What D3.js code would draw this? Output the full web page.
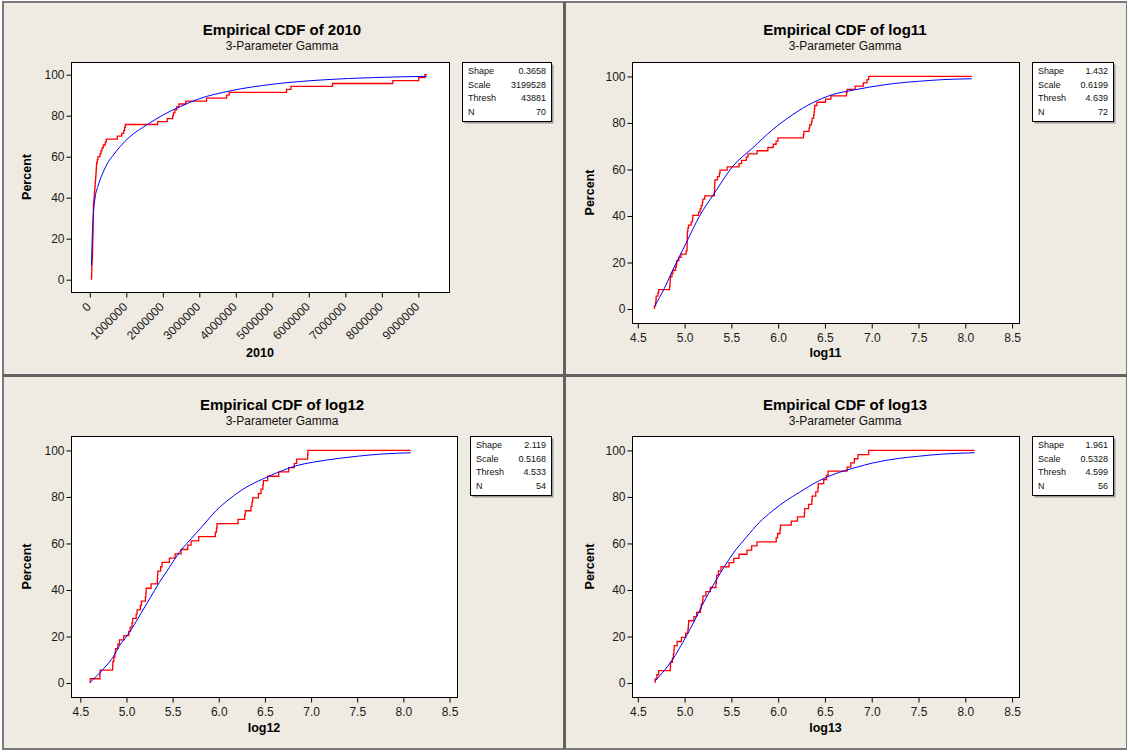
<!DOCTYPE html>
<html>
<head>
<meta charset="UTF-8" />
<title>Empirical CDF - 3-Parameter Gamma</title>
<script src="https://d3js.org/d3.v7.min.js"></script>
<style>
  body {
    margin: 0;
    background: #ffffff;
    font-family: "Liberation Sans", Arial, sans-serif;
  }
  svg { display: block; }
  .title { font-size: 15px; font-weight: bold; fill: #000; }
  .subtitle { font-size: 12px; fill: #111; }
  .axis-label { font-size: 12.5px; font-weight: bold; fill: #000; }
  .legend-text { font-size: 9px; fill: #111; }
</style>
</head>
<body>
<svg id="chart"></svg>
<script>
const width = 1127, height = 750;

// ---- data ----
const variables = ["2010", "log11", "log12", "log13"];
const shapes = ["0.3658", "1.432", "2.119", "1.961"];
const scales = ["3199528", "0.6199", "0.5168", "0.5328"];
const threshs = ["43881", "4.639", "4.533", "4.599"];

const pctTicks = [0, 20, 40, 60, 80, 100];
const ticks2010 = [0, 1000000, 2000000, 3000000, 4000000, 5000000, 6000000, 7000000, 8000000, 9000000];
const ticksLog = [4.5, 5.0, 5.5, 6.0, 6.5, 7.0, 7.5, 8.0, 8.5];

// sorted observations (empirical CDF, red)
const data2010 = [46000, 51000, 53000, 55000, 57000, 60000, 66000, 70000, 73000, 75000,
  77000, 78000, 80000, 82000, 84000, 88000, 90000, 91000, 92000, 93000,
  94000, 95000, 96000, 97000, 98000, 100000, 108000, 115000, 122000, 128000,
  134000, 140000, 147000, 153000, 160000, 166000, 171000, 177000, 182000, 188000,
  205000, 225000, 279000, 305000, 334000, 370000, 425000, 452000, 753000, 873000,
  928000, 955000, 973000, 1860000, 2120000, 2270000, 2290000, 2330000, 2380000, 2440000,
  2630000, 3200000, 3750000, 3820000, 5390000, 5510000, 6650000, 8300000, 9010000, 9180000];

const data11 = [4.678, 4.690, 4.694, 4.696, 4.715, 4.724, 4.840, 4.844, 4.846, 4.848,
  4.865, 4.875, 4.903, 4.912, 4.917, 4.939, 4.963, 5.017, 5.026, 5.027,
  5.028, 5.028, 5.029, 5.030, 5.035, 5.042, 5.071, 5.085, 5.088, 5.149,
  5.166, 5.177, 5.190, 5.195, 5.216, 5.318, 5.320, 5.321, 5.322, 5.324,
  5.352, 5.372, 5.378, 5.455, 5.582, 5.609, 5.659, 5.678, 5.774, 5.890,
  5.948, 5.978, 5.998, 6.270, 6.275, 6.330, 6.337, 6.355, 6.363, 6.379,
  6.385, 6.388, 6.391, 6.414, 6.506, 6.564, 6.730, 6.737, 6.822, 6.910,
  6.949, 6.968];

const data12 = [4.607, 4.712, 4.715, 4.850, 4.852, 4.863, 4.875, 4.881, 4.906, 4.924,
  4.971, 5.025, 5.040, 5.060, 5.068, 5.105, 5.115, 5.150, 5.162, 5.205,
  5.210, 5.213, 5.267, 5.335, 5.337, 5.339, 5.370, 5.386, 5.465, 5.527,
  5.592, 5.664, 5.700, 5.783, 5.963, 5.975, 5.981, 6.209, 6.280, 6.288,
  6.349, 6.360, 6.367, 6.429, 6.458, 6.478, 6.483, 6.530, 6.649, 6.757,
  6.818, 6.844, 6.963, 6.966];

const data13 = [4.685, 4.704, 4.723, 4.848, 4.850, 4.870, 4.880, 4.885, 4.889, 4.920,
  4.966, 5.012, 5.035, 5.040, 5.043, 5.100, 5.128, 5.170, 5.178, 5.192,
  5.197, 5.228, 5.274, 5.335, 5.340, 5.343, 5.362, 5.390, 5.474, 5.525,
  5.582, 5.667, 5.717, 5.774, 5.979, 5.994, 6.020, 6.025, 6.140, 6.206,
  6.280, 6.283, 6.325, 6.360, 6.363, 6.402, 6.425, 6.429, 6.487, 6.517,
  6.533, 6.737, 6.776, 6.814, 6.853, 6.968];

// fitted gamma CDF (blue), [x, percent]
const fit2010 = [[46000, 7], [69000, 21.7], [96000, 31.5], [142000, 39.6], [233000, 46.1],
  [370000, 52.6], [507000, 57.5], [644000, 60.8], [827000, 64.9], [1100000, 69.8],
  [1560000, 75.5], [2010000, 80.4], [2470000, 84.4], [2970000, 88.1], [3840000, 92.1],
  [5030000, 95.4], [6400000, 97.5], [7770000, 98.6], [9230000, 99.2]];

const fit11 = [[4.678, 1.1], [4.785, 9.0], [4.875, 16.9], [5.017, 28.4], [5.159, 39.9],
  [5.320, 49.9], [5.516, 61.4], [5.729, 69.3], [5.943, 77.2], [6.157, 83.6],
  [6.370, 88.7], [6.584, 92.2], [6.798, 94.1], [6.976, 95.4], [7.25, 97.0],
  [7.5, 97.9], [7.75, 98.6], [8.07, 99.0]];

const fit12 = [[4.607, 0.3], [4.708, 4.3], [4.780, 7.4], [4.852, 11.0], [4.924, 16.0],
  [5.033, 21.8], [5.141, 28.9], [5.249, 36.1], [5.357, 43.3], [5.465, 49.7],
  [5.573, 56.2], [5.682, 61.2], [5.826, 67.6], [5.971, 74.1], [6.115, 79.1],
  [6.295, 84.1], [6.475, 87.7], [6.656, 90.8], [6.836, 93.4], [7.017, 94.9],
  [7.305, 96.6], [7.5, 97.5], [7.75, 98.4], [8.08, 99.0]];

const fit13 = [[4.685, 1.0], [4.767, 4.6], [4.874, 10.3], [4.981, 17.5], [5.088, 25.4],
  [5.195, 34.0], [5.302, 41.8], [5.409, 49.0], [5.515, 55.5], [5.658, 62.6],
  [5.800, 69.1], [5.943, 74.1], [6.085, 78.4], [6.228, 82.0], [6.370, 85.5],
  [6.512, 88.4], [6.655, 90.6], [6.833, 92.7], [7.011, 94.6], [7.296, 96.6],
  [7.5, 97.5], [7.75, 98.4], [8.10, 99.0]];

const samples = [data2010, data11, data12, data13];
const fits = [fit2010, fit11, fit12, fit13];

// ---- layout ----
const fmtBig = d3.format("d");
const fmtLog = d3.format(".1f");
const panels = [
  { ox: 0,   oy: 0,   left: 71, right: 449, top: 62, bottom: 292, xDom: [-515000, 9840000], ticks: ticks2010, fmt: fmtBig, rotate: true,  legend: [462, 62, 89, 59] },
  { ox: 563, oy: 0,   left: 69, right: 456, top: 62, bottom: 323, xDom: [4.438, 8.574],     ticks: ticksLog,  fmt: fmtLog, rotate: false, legend: [469, 62, 81, 59] },
  { ox: 0,   oy: 375, left: 71, right: 457, top: 61, bottom: 322, xDom: [4.399, 8.581],     ticks: ticksLog,  fmt: fmtLog, rotate: false, legend: [470, 61, 81, 59] },
  { ox: 563, oy: 375, left: 69, right: 456, top: 61, bottom: 322, xDom: [4.438, 8.574],     ticks: ticksLog,  fmt: fmtLog, rotate: false, legend: [469, 61, 81, 59] }
];
const yDom = [-6, 106.2];

const svg = d3.select("#chart")
  .attr("width", width)
  .attr("height", height);

// page background and panel borders
svg.append("rect")
  .attr("x", 3).attr("y", 2)
  .attr("width", width - 3).attr("height", height - 3)
  .attr("fill", "#efebe2")
  .attr("stroke", "#7a7a7a")
  .attr("stroke-width", 2);
svg.append("line")
  .attr("x1", 564.5).attr("x2", 564.5).attr("y1", 2).attr("y2", height - 1)
  .attr("stroke", "#626262").attr("stroke-width", 3);
svg.append("line")
  .attr("x1", 3).attr("x2", width).attr("y1", 375.5).attr("y2", 375.5)
  .attr("stroke", "#626262").attr("stroke-width", 3);

panels.forEach((p, i) => {
  const g = svg.append("g").attr("transform", `translate(${p.ox},${p.oy})`);
  const x = d3.scaleLinear().domain(p.xDom).range([p.left, p.right]);
  const y = d3.scaleLinear().domain(yDom).range([p.bottom, p.top]);
  const cx = 282;

  g.append("text").attr("class", "title")
    .attr("x", cx).attr("y", 34.5).attr("text-anchor", "middle")
    .text("Empirical CDF of " + variables[i]);
  g.append("text").attr("class", "subtitle")
    .attr("x", cx).attr("y", 50).attr("text-anchor", "middle")
    .text("3-Parameter Gamma");

  // plot area
  g.append("rect")
    .attr("x", p.left + 0.5).attr("y", p.top + 0.5)
    .attr("width", p.right - p.left).attr("height", p.bottom - p.top)
    .attr("fill", "#fff")
    .attr("stroke", "#000");

  // axes
  const yAxis = g.append("g")
    .attr("transform", `translate(${p.left + 0.5},0)`)
    .call(d3.axisLeft(y).tickValues(pctTicks).tickSize(5).tickPadding(2));
  const xAxis = g.append("g")
    .attr("transform", `translate(0,${p.bottom + 0.5})`)
    .call(d3.axisBottom(x).tickValues(p.ticks).tickFormat(p.fmt).tickSize(5).tickPadding(5));
  [yAxis, xAxis].forEach(a => {
    a.select(".domain").remove();
    a.attr("font-family", '"Liberation Sans", Arial, sans-serif').attr("font-size", 12);
    a.selectAll("text").attr("fill", "#1a1a1a");
    a.selectAll("line").attr("stroke", "#000");
  });
  if (p.rotate) {
    xAxis.selectAll("text")
      .attr("y", 0).attr("dy", 0)
      .attr("text-anchor", "end")
      .attr("transform", "translate(1.5,15) rotate(-45)");
  }

  g.append("text").attr("class", "axis-label")
    .attr("transform", `translate(31,${(p.top + p.bottom) / 2}) rotate(-90)`)
    .attr("text-anchor", "middle")
    .text("Percent");
  g.append("text").attr("class", "axis-label")
    .attr("x", (p.left + p.right) / 2).attr("y", 357)
    .attr("text-anchor", "middle")
    .text(variables[i]);

  // empirical CDF
  const obs = samples[i];
  const n = obs.length;
  const fit = fits[i];
  const xEnd = Math.max(fit[fit.length - 1][0], obs[n - 1]);
  const steps = [[obs[0], 0]]
    .concat(obs.map((v, j) => [v, (j + 1) / n * 100]))
    .concat([[xEnd, 100]]);

  g.append("path")
    .datum(steps)
    .attr("fill", "none")
    .attr("stroke", "#ff0000")
    .attr("stroke-width", 1.3)
    .attr("d", d3.line().x(d => x(d[0])).y(d => y(d[1])).curve(d3.curveStepAfter));

  g.append("path")
    .datum(fit)
    .attr("fill", "none")
    .attr("stroke", "#0000ff")
    .attr("stroke-width", 1)
    .attr("d", d3.line().x(d => x(d[0])).y(d => y(d[1])).curve(d3.curveMonotoneX));

  // parameter table
  const [lx, ly, lw, lh] = p.legend;
  g.append("rect")
    .attr("x", lx + 2.5).attr("y", ly + 2.5).attr("width", lw).attr("height", lh)
    .attr("fill", "#9a9a9a");
  g.append("rect")
    .attr("x", lx + 0.5).attr("y", ly + 0.5).attr("width", lw).attr("height", lh)
    .attr("fill", "#fff").attr("stroke", "#000");
  const rows = [["Shape", shapes[i]], ["Scale", scales[i]], ["Thresh", threshs[i]], ["N", String(n)]];
  rows.forEach((r, k) => {
    const yy = ly + 12 + k * 13.5;
    g.append("text").attr("class", "legend-text")
      .attr("x", lx + 6).attr("y", yy).text(r[0]);
    g.append("text").attr("class", "legend-text")
      .attr("x", lx + lw - 5).attr("y", yy).attr("text-anchor", "end").text(r[1]);
  });
});
</script>
</body>
</html>
